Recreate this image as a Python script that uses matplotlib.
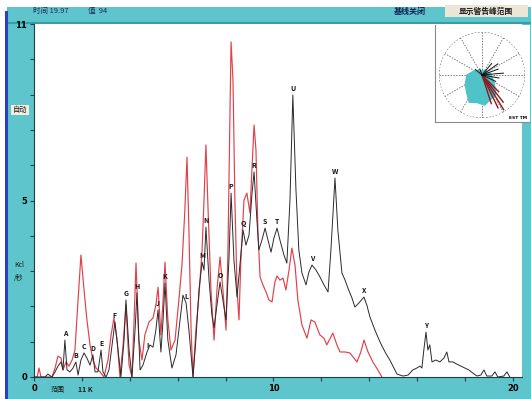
import numpy as np
import matplotlib
matplotlib.use('Agg')
import matplotlib.pyplot as plt
from matplotlib.patches import Rectangle
from matplotlib.lines import Line2D

plt.rcParams['font.family'] = ['Noto Sans CJK SC', 'DejaVu Sans']

# measured spectrum (energy keV, counts kcl/s)
black_x = [0.00, 0.46, 0.58, 0.75, 0.88, 1.00, 1.13, 1.21, 1.29, 1.38, 1.50, 1.63, 1.75, 1.84, 1.96,
           2.09, 2.21, 2.34, 2.46, 2.55, 2.67, 2.80, 2.88, 3.01, 3.13, 3.26, 3.38, 3.51, 3.63, 3.76,
           3.84, 3.97, 4.09, 4.22, 4.30, 4.43, 4.55, 4.72, 4.84, 4.97, 5.09, 5.18, 5.30, 5.39, 5.47,
           5.59, 5.76, 5.93, 6.10, 6.22, 6.35, 6.47, 6.64, 6.76, 6.89, 7.02, 7.10, 7.18, 7.31, 7.43,
           7.52, 7.64, 7.77, 7.89, 8.02, 8.14, 8.23, 8.35, 8.48, 8.60, 8.73, 8.85, 8.98, 9.10, 9.19,
           9.31, 9.39, 9.52, 9.65, 9.77, 9.90, 10.02, 10.15, 10.27, 10.44, 10.56, 10.69, 10.81, 10.94,
           11.06, 11.19, 11.36, 11.48, 11.61, 11.78, 11.94, 12.11, 12.28, 12.40, 12.57, 12.69, 12.86,
           12.99, 13.11, 13.28, 13.40, 13.57, 13.78, 13.90, 14.03, 14.24, 14.45, 14.66, 14.86, 15.03,
           15.16, 15.41, 15.62, 15.82, 15.99, 16.12, 16.20, 16.28, 16.37, 16.45, 16.53, 16.62, 16.78,
           16.95, 17.12, 17.24, 17.33, 17.49, 17.66, 17.83, 18.00, 18.16, 18.33, 18.50, 18.66, 18.79,
           18.91, 19.12, 19.25, 19.37, 19.62, 19.75, 19.87]
black_y = [0.00, 0.00, 0.09, 0.00, 0.16, 0.34, 0.47, 0.22, 1.15, 0.22, 0.16, 0.28, 0.47, 0.06, 0.53,
           0.75, 0.59, 0.37, 0.69, 0.16, 0.16, 0.84, 0.16, 0.00, 0.22, 1.00, 1.71, 0.84, 0.00, 1.15,
           2.40, 0.84, 0.00, 1.46, 2.62, 0.22, 0.37, 0.78, 1.00, 0.93, 1.46, 2.09, 0.78, 1.78, 2.93,
           1.15, 0.28, 0.69, 1.78, 2.55, 2.31, 1.46, 0.00, 1.15, 2.71, 3.58, 3.33, 4.67, 3.02, 1.93,
           1.53, 2.24, 2.96, 2.40, 1.78, 3.64, 5.73, 3.64, 2.49, 3.49, 4.58, 4.11, 4.42, 5.67, 6.39,
           4.89, 3.96, 4.27, 4.64, 4.27, 3.89, 4.33, 4.64, 4.27, 3.80, 3.55, 5.51, 8.79, 5.83,
           3.96, 3.24, 2.87, 3.27, 3.49, 3.33, 3.12, 2.87, 2.65, 3.96, 6.20, 4.58, 3.24,
           3.02, 2.77, 2.46, 2.18, 2.31, 2.49, 2.24, 1.87, 1.46, 1.09, 0.78, 0.53, 0.28,
           0.09, 0.03, 0.06, 0.22, 0.28, 0.34, 0.28, 0.84, 1.40, 0.84, 1.00, 0.47, 0.53,
           0.47, 0.59, 0.78, 0.47, 0.47, 0.40, 0.34, 0.28, 0.22, 0.12, 0.03, 0.06, 0.22,
           0.03, 0.03, 0.16, 0.00, 0.03, 0.16, 0.00]

# reference spectrum
red_x = [0.00, 0.13, 0.21, 0.29, 0.75, 0.88, 1.00, 1.13, 1.21, 1.34, 1.46, 1.59, 1.71, 1.84, 1.96,
         2.09, 2.21, 2.34, 2.46, 2.59, 2.76, 2.92, 3.09, 3.22, 3.34, 3.47, 3.59, 3.72, 3.84, 3.97,
         4.09, 4.18, 4.26, 4.38, 4.51, 4.63, 4.80, 4.97, 5.09, 5.18, 5.30, 5.39, 5.47, 5.59, 5.72,
         5.89, 6.05, 6.18, 6.30, 6.39, 6.47, 6.56, 6.64, 6.76, 6.89, 7.02, 7.10, 7.18, 7.27, 7.39,
         7.52, 7.64, 7.77, 7.89, 8.02, 8.10, 8.18, 8.23, 8.31, 8.39, 8.48, 8.56, 8.64, 8.77, 8.89,
         9.02, 9.10, 9.19, 9.27, 9.35, 9.44, 9.56, 9.69, 9.81, 9.94, 10.06, 10.15, 10.27, 10.40,
         10.52, 10.65, 10.77, 10.90, 11.02, 11.19, 11.40, 11.57, 11.73, 11.94, 12.11, 12.23, 12.48,
         12.65, 12.78, 12.99, 13.19, 13.49, 13.65, 13.78, 13.95, 14.15, 14.36, 14.53]
red_y = [0.00, 0.00, 0.28, 0.00, 0.00, 0.28, 0.65, 0.59, 0.22, 0.47, 0.34, 0.53, 0.84, 2.40, 3.80,
         2.71, 1.78, 1.00, 0.53, 0.28, 0.16, 0.00, 0.53, 1.31, 1.84, 1.15, 0.00, 1.00, 2.24, 0.37,
         0.00, 1.78, 3.55, 1.15, 0.53, 1.31, 1.71, 1.84, 2.24, 2.80, 1.31, 2.40, 3.58, 1.78, 0.84,
         1.15, 2.40, 3.49, 5.20, 6.85, 4.58, 1.46, 0.00, 1.46, 2.55, 3.96, 5.51, 7.23, 5.20, 2.71,
         1.15, 2.71, 3.74, 2.71, 1.46, 3.96, 8.01, 10.44, 9.25, 5.51, 2.71, 1.78, 3.64, 5.51, 5.73,
         5.11, 6.45, 7.85, 7.07, 4.58, 3.12, 2.87, 2.65, 2.40, 2.34, 2.96, 3.15, 3.02, 3.08,
         2.71, 3.33, 4.02, 3.49, 2.40, 1.62, 1.21, 1.78, 1.71, 1.31, 1.21, 1.00, 1.37,
         1.00, 0.78, 0.78, 0.75, 0.47, 0.78, 1.15, 0.78, 0.47, 0.22, 0.00]

peak_letters = list('ABCDEFGHIJKLMNOPQRSTUVWXY')
peak_x = [1.29, 1.75, 2.09, 2.46, 2.80, 3.38, 3.84, 4.30, 4.72, 5.18, 5.47, 6.35, 7.02, 7.18,
          7.77, 8.23, 8.73, 9.19, 9.65, 10.15, 10.81, 11.61, 12.57, 13.78, 16.37]

# rose plot in the corner: angle (deg) / relative radius
rose_ang = [90, 60, 30, 10, -15, -35, -55, -70, -85, -100, -115, -130, -150, 180, 150, 120]
rose_r = [0.10, 0.12, 0.15, 0.20, 0.25, 0.35, 0.55, 0.60, 0.70, 0.65, 0.70, 0.55, 0.45, 0.35, 0.20, 0.12]
red_spoke_ang = [-45, -52, -58, -64, -72]
red_spoke_r = [0.55, 0.80, 0.95, 0.85, 0.70]
blk_spoke_ang = [50, 35, 20, 5, -10, -25, 110, 140]
blk_spoke_r = [0.35, 0.45, 0.40, 0.50, 0.40, 0.35, 0.15, 0.20]

teal = '#5ec5cd'
W, H = 531, 399

fig = plt.figure(figsize=(W / 100, H / 100), dpi=100)
fig.patch.set_facecolor('white')
fig.add_artist(Rectangle((7 / W, 0), 1, 1 - 7 / H, transform=fig.transFigure,
                         facecolor=teal, edgecolor='none', zorder=-5))
fig.add_artist(Line2D([7 / W, 1], [1 - 23 / H] * 2, transform=fig.transFigure,
                      color='#3a9ca4', lw=1.5, zorder=-4))
fig.add_artist(Line2D([6 / W] * 2, [0, 1 - 12 / H], transform=fig.transFigure,
                      color='#2b3fc2', lw=2.2, zorder=-4))

# main spectrum axes
ax = fig.add_axes([34 / W, 22 / H, (522 - 34) / W, (377 - 24) / H])
ax.set_facecolor('white')
ax.plot(red_x, red_y, color='#e2404a', lw=0.85, zorder=2)
ax.plot(black_x, black_y, color='#2a2a2a', lw=0.7, zorder=3)
for letter, px in zip(peak_letters, peak_x):
    py = black_y[black_x.index(px)]
    ax.annotate(letter, (px, py), xytext=(0, 2), textcoords='offset points',
                ha='center', va='bottom', fontsize=5, fontweight='bold', color='#111111',
                zorder=4)

ax.set_xlim(0, 20.38)
ax.set_ylim(0, 11)
ax.set_xticks(np.arange(0, 21, 2))
ax.set_xticklabels(['0', '', '', '', '', '10', '', '', '', '', '20'])
yt = np.arange(11) * 1.1
ax.set_yticks(yt)
ax.set_yticklabels(['0', '', '', '', '', '5', '', '', '', '', '11'])
ax.tick_params(axis='both', labelsize=6, length=3, width=0.8, color='#1f3f48', pad=2)
for lab in ax.get_xticklabels() + ax.get_yticklabels():
    lab.set_fontweight('bold')
    lab.set_family(['DejaVu Sans'])
ax.spines['top'].set_visible(False)
ax.spines['right'].set_visible(False)
ax.spines['left'].set_color('#1f3f48')
ax.spines['bottom'].set_color('#1f3f48')

# corner rose
box = fig.add_axes([435 / W, 1 - 122 / H, (530 - 435) / W, (122 - 25) / H])
box.set_facecolor('white')
box.set_xticks([])
box.set_yticks([])
for s in ['top', 'right']:
    box.spines[s].set_visible(False)
box.spines['left'].set_color('#8a8a8a')
box.spines['bottom'].set_color('#8a8a8a')
box.text(0.97, 0.02, 'EST TM', transform=box.transAxes, ha='right', va='bottom',
         fontsize=3.2, fontweight='bold', family=['DejaVu Sans'])

pa = fig.add_axes([439 / W, 1 - 118 / H, 86 / W, 86 / H], projection='polar')
pa.patch.set_alpha(0)
pa.set_ylim(0, 1)
pa.grid(False)
pa.set_xticks([])
pa.set_yticks([])
pa.spines['polar'].set_visible(False)
th = np.linspace(0, 2 * np.pi, 200)
pa.plot(th, np.ones_like(th), color='#444444', lw=0.6, ls=(0, (2, 2)))
for a in np.arange(0, 360, 30):
    pa.plot([np.radians(a)] * 2, [0, 1], color='#444444', lw=0.5, ls=(0, (2, 2)))
ra = np.radians(rose_ang + rose_ang[:1])
pa.fill(ra, rose_r + rose_r[:1], color='#4fc3c8', zorder=3)
for a, r in zip(red_spoke_ang, red_spoke_r):
    pa.plot([np.radians(a)] * 2, [0, r], color='#8a1c22', lw=1.0, zorder=4)
for a, r in zip(blk_spoke_ang, blk_spoke_r):
    pa.plot([np.radians(a)] * 2, [0, r], color='#111111', lw=0.7, zorder=4)

# header and side texts
hdr_y = 1 - 11 / H
fig.text(33 / W, hdr_y, '时间 19.97', fontsize=5.4, color='#1b2b55', va='center')
fig.text(88 / W, hdr_y, '值  94', fontsize=5.4, color='#1b2b55', va='center')
fig.text(410 / W, hdr_y, '基线关闭', fontsize=5.8, fontweight='bold', color='#102050',
         ha='center', va='center')
fig.add_artist(Rectangle((445 / W, 1 - 17 / H), 83 / W, 12 / H, transform=fig.transFigure,
                         facecolor='#ece6d6', edgecolor='none'))
fig.text(486 / W, hdr_y, '显示警告峰范围', fontsize=5.6, fontweight='bold', color='#1a1a1a',
         ha='center', va='center')
fig.text(20 / W, 1 - 110 / H, '自动', fontsize=5.2, color='#1a1a1a', ha='center', va='center',
         bbox=dict(facecolor='#f3eddc', edgecolor='none', pad=1))
fig.text(19 / W, 1 - 265 / H, 'Kcl', fontsize=5, color='#1a1a1a', ha='center', va='center')
fig.text(19 / W, 1 - 278 / H, '/秒', fontsize=5, color='#1a1a1a', ha='center', va='center')
fig.text(58 / W, 1 - 390 / H, '范围', fontsize=5, color='#1a1a1a', ha='center', va='center')
fig.text(85 / W, 1 - 390 / H, '11 K', fontsize=5, fontweight='bold', color='#1a1a1a',
         ha='center', va='center')

fig.savefig('out.png', dpi=100)
